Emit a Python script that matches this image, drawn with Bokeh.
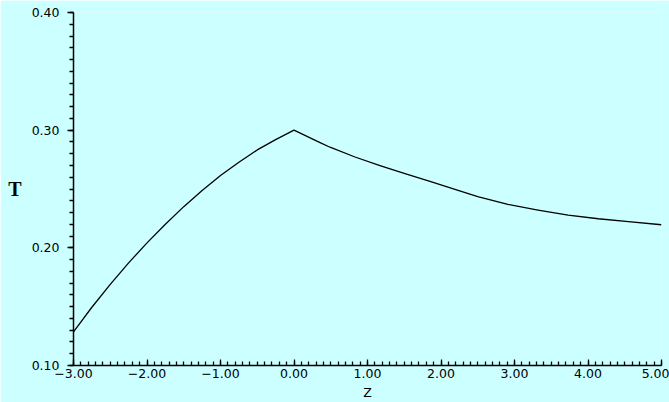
from bokeh.plotting import figure
from bokeh.models import (SingleIntervalTicker, CustomJSTickFormatter, PrintfTickFormatter,
                          Range1d)
from bokeh.embed import file_html
from bokeh.resources import INLINE

# Data
z_left = [-3.0, -2.75, -2.5, -2.25, -2.0, -1.75, -1.5, -1.25, -1.0, -0.75, -0.5, -0.25, 0.0]
t_left = [0.1286, 0.1495, 0.169, 0.1872, 0.2042, 0.2200, 0.235, 0.2487, 0.2614, 0.2727, 0.2832, 0.2920, 0.300]
z_right = [0.0, 0.333, 0.49, 0.83, 1.17, 1.51, 1.85, 2.19, 2.50, 2.91, 3.32, 3.73, 4.14, 4.55, 5.0]
t_right = [0.300, 0.2900, 0.2855, 0.2772, 0.2699, 0.2631, 0.2565, 0.2497, 0.2436, 0.2369, 0.2321, 0.2278, 0.2247, 0.2222, 0.2196]

x_label = "Z"
y_label = "T"

BG = "#ccffff"
FONT = "DejaVu Sans"

p = figure(width=669, height=402, output_backend="svg", toolbar_location=None,
           x_range=Range1d(-3, 5), y_range=Range1d(0.10, 0.40),
           background_fill_color=BG, border_fill_color=BG,
           min_border_left=73, min_border_right=8, min_border_top=12, min_border_bottom=37)
p.outline_line_color = None
p.xgrid.visible = False
p.ygrid.visible = False

p.line(z_left + z_right[1:], t_left + t_right[1:], line_color="black", line_width=1.3,
       line_join="round")

# x axis
xa = p.xaxis[0]
xa.ticker = SingleIntervalTicker(interval=1, num_minor_ticks=10)
xa.formatter = CustomJSTickFormatter(code="""
    var v = Math.abs(tick) < 1e-9 ? 0 : tick;
    return (v < 0 ? "\\u2212" : "") + Math.abs(v).toFixed(2);
""")
xa.major_tick_in = 6
xa.major_tick_out = 0
xa.minor_tick_in = 4
xa.minor_tick_out = 0
xa.axis_line_width = 1.5
xa.major_tick_line_width = 1.3
xa.minor_tick_line_width = 1.3
xa.major_label_standoff = 3
xa.major_label_text_font = FONT
xa.major_label_text_font_size = "12.5px"
xa.major_label_text_color = "black"
xa.axis_label = x_label
xa.axis_label_standoff = 4
xa.axis_label_text_font = FONT
xa.axis_label_text_font_style = "normal"
xa.axis_label_text_font_size = "12.5px"
xa.axis_label_text_color = "black"

# y axis
ya = p.yaxis[0]
ya.ticker = SingleIntervalTicker(interval=0.1, num_minor_ticks=10)
ya.formatter = PrintfTickFormatter(format="%.2f")
ya.major_tick_in = 0
ya.major_tick_out = 6
ya.minor_tick_in = 0
ya.minor_tick_out = 4
ya.axis_line_width = 1.5
ya.major_tick_line_width = 1.3
ya.minor_tick_line_width = 1.3
ya.major_label_standoff = 8
ya.major_label_text_font = FONT
ya.major_label_text_font_size = "12.5px"
ya.major_label_text_color = "black"
ya.axis_label = y_label
ya.axis_label_orientation = "horizontal"
ya.axis_label_standoff = 7
ya.axis_label_text_font = "Liberation Serif"
ya.axis_label_text_font_style = "bold"
ya.axis_label_text_font_size = "20px"
ya.axis_label_text_color = "black"

open("out.html", "w").write(file_html(p, INLINE))
